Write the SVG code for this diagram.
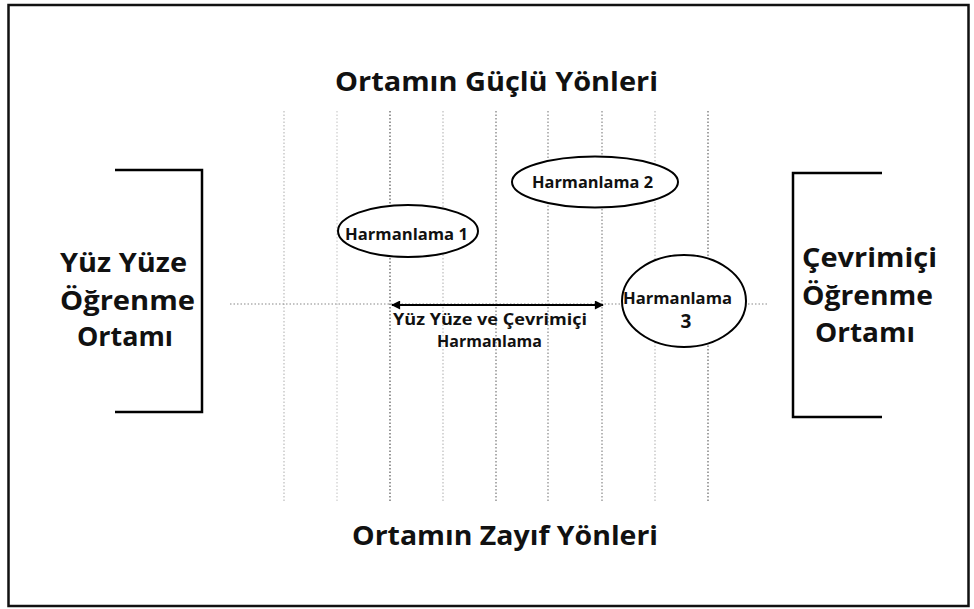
<svg xmlns="http://www.w3.org/2000/svg" width="974" height="609" viewBox="0 0 974 609">
  <defs>
    <style>
      .t{font-family:"Open Sans","Liberation Sans",sans-serif;font-weight:bold;fill:#111;text-anchor:middle}
      .big{font-size:27px}
      .small{font-size:16.5px}
      .grid{stroke-width:1.2;stroke-dasharray:1.5 2;fill:none}
      .node{fill:#fff;stroke:#000;stroke-width:2}
      .br{fill:none;stroke:#000;stroke-width:2.5}
    </style>
    <marker id="ah" viewBox="0 0 10 10" refX="9" refY="5" markerWidth="12" markerHeight="9" markerUnits="userSpaceOnUse" orient="auto-start-reverse">
      <path d="M0 0 L10 5 L0 10 Z" fill="#000"/>
    </marker>
  </defs>
  <rect x="0" y="0" width="974" height="609" fill="#fff"/>
  <rect x="8.5" y="5" width="960" height="601" fill="none" stroke="#111" stroke-width="2.5"/>

  <g id="grid">
    <line class="grid" x1="284" y1="111" x2="284" y2="503" stroke="#bbb"/>
    <line class="grid" x1="337" y1="111" x2="337" y2="503" stroke="#ccc"/>
    <line class="grid" x1="390" y1="111" x2="390" y2="503" stroke="#555"/>
    <line class="grid" x1="443" y1="111" x2="443" y2="503" stroke="#bbb"/>
    <line class="grid" x1="496" y1="111" x2="496" y2="503" stroke="#777"/>
    <line class="grid" x1="548" y1="111" x2="548" y2="503" stroke="#888"/>
    <line class="grid" x1="602" y1="111" x2="602" y2="503" stroke="#888"/>
    <line class="grid" x1="655" y1="111" x2="655" y2="503" stroke="#bbb"/>
    <line class="grid" x1="708" y1="111" x2="708" y2="503" stroke="#666"/>
    <line class="grid" x1="230" y1="304" x2="767" y2="304" stroke="#888"/>
  </g>

  <g id="title-top"><text class="t big" x="496.5" y="91" textLength="323" lengthAdjust="spacingAndGlyphs">Ortamın Güçlü Yönleri</text></g>
  <g id="title-bottom"><text class="t big" x="505" y="545" textLength="306" lengthAdjust="spacingAndGlyphs">Ortamın Zayıf Yönleri</text></g>

  <g id="face-to-face">
    <path class="br" d="M115 170 H202 V412 H115"/>
    <text class="t big" x="123.5" y="272" textLength="127" lengthAdjust="spacingAndGlyphs">Yüz Yüze</text>
    <text class="t big" x="127.5" y="310" textLength="135" lengthAdjust="spacingAndGlyphs">Öğrenme</text>
    <text class="t big" x="125" y="346" textLength="96" lengthAdjust="spacingAndGlyphs">Ortamı</text>
  </g>

  <g id="online">
    <path class="br" d="M882 173 H793 V417 H882"/>
    <text class="t big" x="869.5" y="267" textLength="135" lengthAdjust="spacingAndGlyphs">Çevrimiçi</text>
    <text class="t big" x="867.5" y="305" textLength="131" lengthAdjust="spacingAndGlyphs">Öğrenme</text>
    <text class="t big" x="865" y="342" textLength="100" lengthAdjust="spacingAndGlyphs">Ortamı</text>
  </g>

  <g id="connectors">
    <line x1="392" y1="305" x2="603" y2="305" stroke="#000" stroke-width="2" marker-start="url(#ah)" marker-end="url(#ah)"/>
  </g>
  <g id="arrow-label">
    <text class="t small" x="490" y="325" textLength="194" lengthAdjust="spacingAndGlyphs">Yüz Yüze ve Çevrimiçi</text>
    <text class="t small" x="489.5" y="347" textLength="105" lengthAdjust="spacingAndGlyphs">Harmanlama</text>
  </g>

  <g id="harmanlama1">
    <ellipse class="node" cx="408" cy="231" rx="70" ry="26"/>
    <text class="t small" x="406.5" y="240" textLength="123" lengthAdjust="spacingAndGlyphs">Harmanlama 1</text>
  </g>
  <g id="harmanlama2">
    <ellipse class="node" cx="595" cy="182" rx="83" ry="25.5"/>
    <text class="t small" x="592.5" y="188" textLength="121" lengthAdjust="spacingAndGlyphs">Harmanlama 2</text>
  </g>
  <g id="harmanlama3">
    <ellipse class="node" cx="684" cy="301" rx="62" ry="46"/>
    <text class="t small" x="677.5" y="304" textLength="109" lengthAdjust="spacingAndGlyphs">Harmanlama</text>
    <text class="t" x="686" y="328" font-size="19">3</text>
  </g>
</svg>
